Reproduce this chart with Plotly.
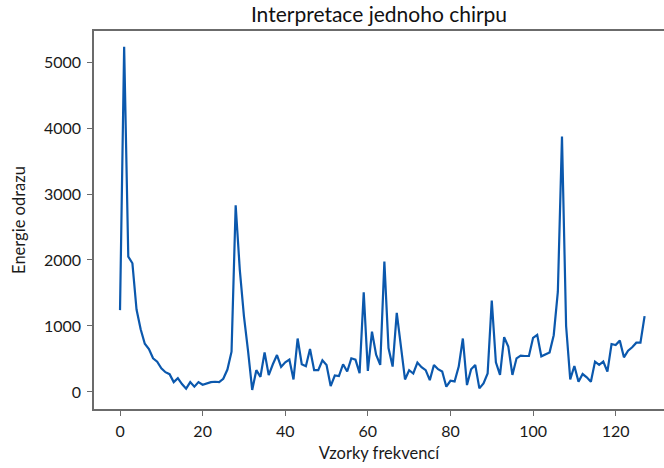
import plotly.graph_objects as go

samples = list(range(128))
energy = [
    1240, 5230, 2050, 1950, 1250, 950, 730, 650, 510, 460,
    360, 300, 270, 150, 210, 120, 50, 150, 80, 150,
    110, 130, 150, 155, 150, 200, 340, 610, 2830, 1850,
    1150, 620, 30, 330, 230, 600, 255, 420, 560, 380,
    450, 490, 190, 810, 420, 390, 650, 330, 330, 480,
    410, 90, 250, 240, 420, 310, 510, 490, 285, 1510,
    320, 915, 565, 410, 1975, 665, 385, 1200, 690, 190,
    330, 280, 445, 375, 330, 180, 410, 345, 310, 80,
    170, 160, 385, 810, 105, 345, 410, 55, 130, 280,
    1385, 450, 258, 830, 690, 258, 510, 550, 545, 545,
    820, 865, 540, 570, 600, 860, 1520, 3870, 1000, 192,
    394, 156, 272, 222, 156, 460, 410, 460, 308, 727,
    712, 778, 525, 626, 677, 747, 747, 1150,
]
x_ticks = [0, 20, 40, 60, 80, 100, 120]
y_ticks = [0, 1000, 2000, 3000, 4000, 5000]

title_text = "Interpretace jednoho chirpu"
x_title = "Vzorky frekvencí"
y_title = "Energie odrazu"

FONT = "Lato, Carlito, 'Open Sans', sans-serif"
AXIS_COLOR = "#6b6b6b"

fig = go.Figure()
fig.add_trace(go.Scatter(
    x=samples, y=energy, mode="lines",
    line=dict(color="#0b58ad", width=2.2),
    showlegend=False, hoverinfo="x+y",
))

fig.update_layout(
    width=664, height=468,
    margin=dict(l=94, r=0, t=31, b=59),
    paper_bgcolor="white", plot_bgcolor="white",
    font=dict(family=FONT, size=16, color="#1a1a1a"),
    title=dict(text=title_text, x=0.5, xref="paper", xanchor="center",
               y=1 - 7 / 468, yref="container", yanchor="top",
               font=dict(family=FONT, size=21, color="#111111")),
)
fig.update_xaxes(
    range=[-6.3, 131.7], tickvals=x_ticks, ticktext=[str(v) for v in x_ticks],
    showgrid=False, zeroline=False,
    showline=True, linecolor=AXIS_COLOR, linewidth=1.5, mirror=True,
    ticks="outside", ticklen=5, tickwidth=1, tickcolor=AXIS_COLOR,
    tickfont=dict(size=16), ticklabelstandoff=2,
    title=dict(text=x_title, font=dict(size=16.5), standoff=8),
)
fig.update_yaxes(
    range=[-258, 5470], tickvals=y_ticks, ticktext=[str(v) for v in y_ticks],
    showgrid=False, zeroline=False,
    showline=True, linecolor=AXIS_COLOR, linewidth=1.5, mirror=False,
    ticks="outside", ticklen=5, tickwidth=1, tickcolor=AXIS_COLOR,
    tickfont=dict(size=16), ticklabelstandoff=3,
    title=dict(text=y_title, font=dict(size=16.5), standoff=14),
)

fig.write_html("out.html")
